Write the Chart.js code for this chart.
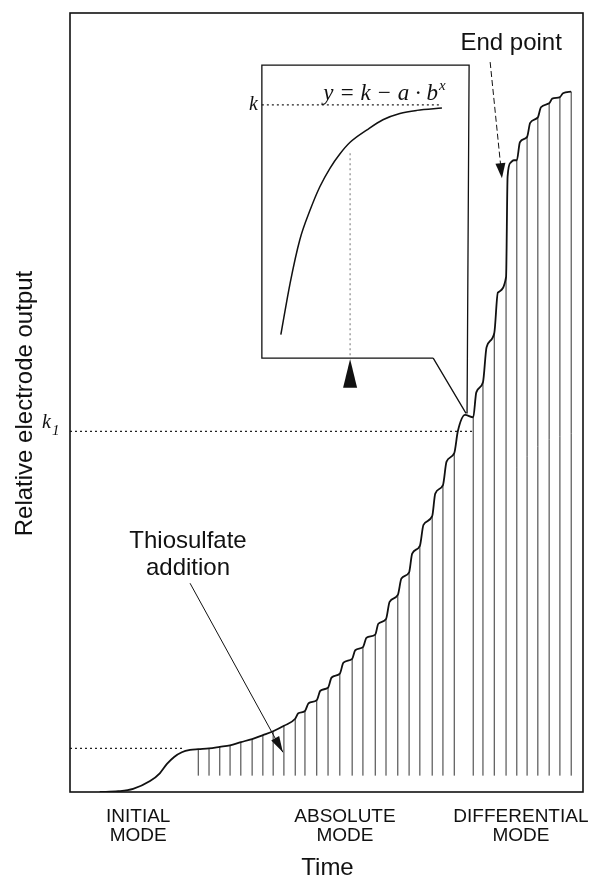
<!DOCTYPE html>
<html>
<head>
<meta charset="utf-8">
<script src="https://cdn.jsdelivr.net/npm/chart.js@4/dist/chart.umd.min.js"></script>
<style>
  html, body { margin: 0; padding: 0; background: #fff; }
  #grafico { display: block; }
</style>
</head>
<body>
<canvas id="grafico" width="594" height="877"></canvas>
<script>
// Valores. Los dos ejes en unidades relativas 0-100.

// curva de salida del electrodo (tiempo, salida)
const tiempoCurva = [5.8, 9.4, 12.3, 15.6, 17.5, 18.9, 20.3, 21.8, 23.4, 25.0,
  27.1, 29.2, 31.2, 33.3, 35.5, 37.6, 39.6, 41.7, 43.9,
  44.5, 45.8, 46.5, 48.1, 48.8, 50.3, 51.0, 52.6, 53.3, 55.0, 55.6, 57.1,
  57.8, 59.5, 60.1, 61.6, 62.3, 63.9, 64.6, 66.1, 66.7, 68.2, 68.9, 70.6,
  71.2, 72.7, 73.4, 74.9, 75.6, 77.0, 78.6, 79.2, 80.5, 81.2, 82.7, 83.4, 85.0,
  85.3, 85.9, 86.5, 87.1, 87.7, 89.1, 89.7, 91.2, 91.8, 93.4, 94.0, 95.5, 96.1, 97.7];
const salidaCurva = [0.0, 0.1, 0.4, 1.4, 2.4, 3.6, 4.5, 5.1, 5.4, 5.5,
  5.6, 5.8, 6.0, 6.4, 6.8, 7.3, 7.8, 8.5, 9.4,
  10.1, 10.4, 11.4, 11.8, 13.0, 13.4, 14.7, 15.2, 16.6, 17.1, 18.2, 18.6,
  19.8, 20.2, 21.6, 22.2, 24.4, 25.3, 27.4, 28.2, 30.6, 31.6, 34.3, 35.4,
  38.3, 39.4, 42.4, 43.5, 46.3, 48.4, 48.1, 51.3, 52.6, 57.1, 58.9, 64.1, 66.1,
  79.0, 80.8, 81.1, 81.1, 83.4, 84.1, 85.9, 86.6, 87.9, 88.4, 89.0, 89.2, 89.7, 89.9];

// una linea vertical por cada adicion de tiosulfato
const tiempoAdicion = [25.0, 27.1, 29.2, 31.2, 33.3, 35.5, 37.6, 39.6, 41.7, 43.9,
  45.8, 48.1, 50.3, 52.6, 55.0, 57.1, 59.5, 61.6, 63.9, 66.1, 68.2, 70.6, 72.7,
  74.9, 78.6, 80.5, 82.7, 85.0, 87.1, 89.1, 91.2, 93.4, 95.5, 97.7];
const salidaAdicion = [5.5, 5.6, 5.8, 6.0, 6.4, 6.8, 7.3, 7.8, 8.5, 9.4,
  10.4, 11.8, 13.4, 15.2, 17.1, 18.6, 20.2, 22.2, 25.3, 28.2, 31.6, 35.4, 39.4,
  43.5, 48.1, 52.6, 58.9, 66.1, 81.1, 84.1, 86.6, 88.4, 89.2, 89.9];
const baseAdicion = 2.1;

// curva del recuadro y = k - a*b^x
const tiempoRecuadro = [41.1, 42.9, 44.8, 46.8, 48.7, 50.7, 52.6, 54.6, 57.9, 61.0, 64.3, 67.6, 72.5];
const salidaRecuadro = [58.7, 65.3, 70.9, 74.7, 77.7, 80.1, 81.9, 83.4, 85.0, 86.3, 87.1, 87.5, 87.8];

const nivelK = 88.2;
const nivelK1 = 46.3;
const nivelInicial = 5.6;

const etiquetasModo = [['INITIAL', 'MODE'], ['ABSOLUTE', 'MODE'], ['DIFFERENTIAL', 'MODE']];
const centroModo = [13.3, 53.6, 87.9];

function puntos(xs, ys) {
  return xs.map((x, i) => ({x: x, y: ys[i]}));
}

// lineas verticales separadas por huecos (null)
let datosAdicion = [];
tiempoAdicion.forEach((t, i) => {
  datosAdicion.push({x: t, y: baseAdicion});
  datosAdicion.push({x: t, y: salidaAdicion[i]});
  datosAdicion.push({x: t, y: null});
});

const punteado = [2, 3];

function flecha(ctx, x1, y1, x2, y2, largo, ancho) {
  const ang = Math.atan2(y2 - y1, x2 - x1);
  ctx.beginPath();
  ctx.moveTo(x2, y2);
  ctx.lineTo(x2 - largo * Math.cos(ang) + ancho * Math.sin(ang), y2 - largo * Math.sin(ang) - ancho * Math.cos(ang));
  ctx.lineTo(x2 - largo * Math.cos(ang) - ancho * Math.sin(ang), y2 - largo * Math.sin(ang) + ancho * Math.cos(ang));
  ctx.closePath();
  ctx.fill();
}

const dibujoExtra = {
  id: 'dibujoExtra',
  afterDatasetsDraw(chart) {
    const ctx = chart.ctx;
    const a = chart.chartArea;
    const px = v => chart.scales.x.getPixelForValue(v);
    const py = v => chart.scales.y.getPixelForValue(v);
    ctx.save();
    ctx.strokeStyle = '#111';
    ctx.fillStyle = '#111';

    // marco
    ctx.lineWidth = 1.6;
    ctx.strokeRect(a.left, a.top, a.right - a.left, a.bottom - a.top);

    // recuadro con su llamada
    ctx.lineWidth = 1.3;
    ctx.beginPath();
    ctx.moveTo(px(70.8), py(55.7));
    ctx.lineTo(px(37.4), py(55.7));
    ctx.lineTo(px(37.4), py(93.3));
    ctx.lineTo(px(77.8), py(93.3));
    ctx.lineTo(px(77.4), py(48.6));
    ctx.moveTo(px(70.8), py(55.7));
    ctx.lineTo(px(77.2), py(48.6));
    ctx.stroke();

    // triangulo bajo el recuadro
    ctx.beginPath();
    ctx.moveTo(px(54.6), py(55.6));
    ctx.lineTo(px(54.6) - 7, py(51.9));
    ctx.lineTo(px(54.6) + 7, py(51.9));
    ctx.closePath();
    ctx.fill();

    // flecha tiosulfato
    ctx.lineWidth = 1;
    let x1 = px(23.4), y1 = py(26.8), x2 = px(41.5), y2 = py(5.1);
    ctx.beginPath();
    ctx.moveTo(x1, y1);
    ctx.lineTo(x2, y2);
    ctx.stroke();
    flecha(ctx, x1, y1, x2, y2, 16, 4.5);

    // flecha punto final
    x1 = px(81.9); y1 = py(93.7); x2 = px(84.2); y2 = py(78.8);
    ctx.setLineDash([6, 3]);
    ctx.beginPath();
    ctx.moveTo(x1, y1);
    ctx.lineTo(x2, y2);
    ctx.stroke();
    ctx.setLineDash([]);
    flecha(ctx, x1, y1, x2, y2, 15, 5);

    // textos
    ctx.font = '24px "Liberation Sans", Arial, sans-serif';
    ctx.textAlign = 'center';
    ctx.textBaseline = 'alphabetic';
    ctx.fillText('End point', px(86.0), py(95.3));
    ctx.fillText('Thiosulfate', px(23.0), py(31.3));
    ctx.fillText('addition', px(23.0), py(27.9));
    ctx.fillText('Time', (a.left + a.right) / 2 + 1, a.bottom + 83);

    ctx.font = '19px "Liberation Sans", Arial, sans-serif';
    etiquetasModo.forEach((lineas, i) => {
      ctx.fillText(lineas[0], px(centroModo[i]), a.bottom + 30);
      ctx.fillText(lineas[1], px(centroModo[i]), a.bottom + 49);
    });

    ctx.save();
    ctx.translate(a.left - 45, (a.top + a.bottom) / 2 + 1);
    ctx.rotate(-Math.PI / 2);
    ctx.font = '24px "Liberation Sans", Arial, sans-serif';
    ctx.textBaseline = 'middle';
    ctx.fillText('Relative electrode output', 0, 0);
    ctx.restore();

    // etiquetas en cursiva
    ctx.font = 'italic 20px "Liberation Serif", "Times New Roman", serif';
    ctx.textAlign = 'right';
    ctx.fillText('k', px(36.6), py(87.5));
    ctx.textAlign = 'left';
    ctx.fillText('k', a.left - 28, py(nivelK1) - 3);
    ctx.font = 'italic 15px "Liberation Serif", "Times New Roman", serif';
    ctx.fillText('1', a.left - 18, py(nivelK1) + 4);

    const ecuacion = 'y = k \u2212 a \u00b7 b';
    ctx.font = 'italic 23px "Liberation Serif", "Times New Roman", serif';
    const anchoSup = 9;
    const finEc = px(73.5);
    ctx.textAlign = 'right';
    ctx.fillText(ecuacion, finEc - anchoSup, py(88.8));
    ctx.textAlign = 'left';
    ctx.font = 'italic 15px "Liberation Serif", "Times New Roman", serif';
    ctx.fillText('x', finEc - anchoSup + 1, py(88.8) - 10);

    ctx.restore();
  }
};

const lineaPunteada = (datos, color) => ({
  data: datos,
  borderColor: color || '#222',
  borderWidth: 1.2,
  borderDash: punteado,
  pointRadius: 0,
  tension: 0
});

const grafico = new Chart(document.getElementById('grafico'), {
  type: 'line',
  data: {
    datasets: [
      {
        data: puntos(tiempoCurva, salidaCurva),
        borderColor: '#111',
        borderWidth: 1.8,
        pointRadius: 0,
        cubicInterpolationMode: 'monotone'
      },
      {
        data: datosAdicion,
        borderColor: '#333',
        borderWidth: 1,
        pointRadius: 0,
        spanGaps: false,
        tension: 0
      },
      {
        data: puntos(tiempoRecuadro, salidaRecuadro),
        borderColor: '#111',
        borderWidth: 1.5,
        pointRadius: 0,
        cubicInterpolationMode: 'monotone'
      },
      lineaPunteada([{x: 0, y: nivelK1}, {x: 78.6, y: nivelK1}]),
      lineaPunteada([{x: 0, y: nivelInicial}, {x: 22.4, y: nivelInicial}]),
      lineaPunteada([{x: 37.4, y: nivelK}, {x: 72.5, y: nivelK}]),
      lineaPunteada([{x: 54.6, y: 82.0}, {x: 54.6, y: 55.7}], '#888')
    ]
  },
  options: {
    responsive: false,
    animation: false,
    layout: {padding: {left: 70, right: 11, top: 13, bottom: 85}},
    plugins: {legend: {display: false}, tooltip: {enabled: false}},
    scales: {
      x: {type: 'linear', min: 0, max: 100, display: false},
      y: {type: 'linear', min: 0, max: 100, display: false}
    }
  },
  plugins: [dibujoExtra]
});
</script>
</body>
</html>
